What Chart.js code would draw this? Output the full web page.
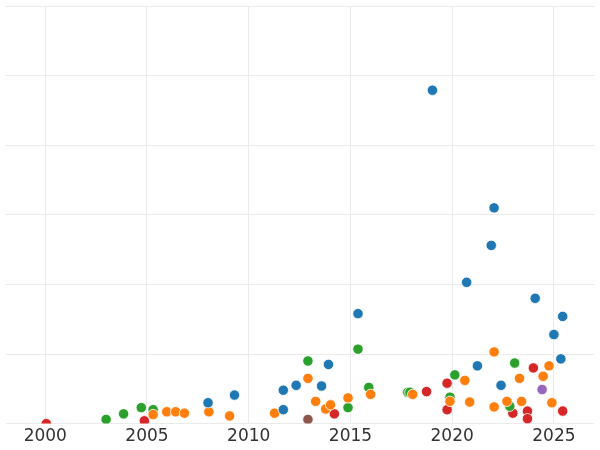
<!DOCTYPE html>
<html>
<head>
<script src="https://cdn.jsdelivr.net/npm/chart.js@4"></script>
<style>body{margin:0;background:#fff}#wrap{width:600px;height:450px}</style>
</head>
<body>
<div id="wrap"><canvas id="c"></canvas></div>
<script>
const blueX = [2008.0, 2009.3, 2011.7, 2011.7, 2012.33, 2013.58, 2013.92, 2015.37, 2019.03, 2020.71, 2021.24, 2021.92, 2022.06, 2022.4, 2024.08, 2025.0, 2025.34, 2025.43];
const blueY = [0.3, 0.41, 0.2, 0.48, 0.55, 0.54, 0.85, 1.58, 4.79, 2.03, 0.83, 2.56, 3.1, 0.55, 1.8, 1.28, 0.93, 1.54];
const orangeX = [2005.3, 2005.97, 2006.41, 2006.84, 2008.04, 2009.06, 2011.27, 2012.91, 2013.29, 2013.78, 2014.02, 2014.88, 2015.99, 2018.06, 2019.89, 2020.62, 2020.86, 2022.06, 2022.06, 2022.69, 2023.31, 2023.41, 2024.47, 2024.76, 2024.9];
const orangeY = [0.13, 0.17, 0.17, 0.15, 0.17, 0.11, 0.15, 0.65, 0.32, 0.21, 0.27, 0.37, 0.42, 0.42, 0.32, 0.62, 0.31, 1.03, 0.24, 0.32, 0.65, 0.32, 0.68, 0.83, 0.3];
const greenX = [2002.99, 2003.85, 2004.72, 2005.3, 2012.91, 2014.88, 2015.37, 2015.9, 2017.82, 2017.92, 2019.89, 2020.13, 2022.83, 2023.07];
const greenY = [0.06, 0.14, 0.23, 0.2, 0.9, 0.23, 1.07, 0.52, 0.45, 0.45, 0.38, 0.7, 0.25, 0.87];
const redX = [2000.05, 2004.87, 2014.21, 2018.74, 2019.75, 2019.75, 2022.98, 2023.7, 2023.7, 2023.99, 2025.43];
const redY = [0, 0.04, 0.14, 0.46, 0.58, 0.2, 0.15, 0.18, 0.07, 0.8, 0.18];
const purpleX = [2024.42];
const purpleY = [0.49];
const brownX = [2012.91];
const brownY = [0.06];
const yearTicks = [2000, 2005, 2010, 2015, 2020, 2025];

function pts(xs, ys) {
  return xs.map((x, i) => ({ x: x, y: ys[i] }));
}
function ds(xs, ys, color) {
  return { data: pts(xs, ys), backgroundColor: color, borderColor: "#fff", borderWidth: 0.8, pointRadius: 5.2, clip: { left: false, right: false, top: false, bottom: 0 } };
}

new Chart(document.getElementById("c"), {
  type: "scatter",
  data: {
    datasets: [
      ds(blueX, blueY, "#1f77b4"),
      ds(orangeX, orangeY, "#ff7f0e"),
      ds(greenX, greenY, "#2ca02c"),
      ds(redX, redY, "#d62728"),
      ds(purpleX, purpleY, "#9467bd"),
      ds(brownX, brownY, "#8c564b"),
    ],
  },
  options: {
    responsive: true,
    maintainAspectRatio: false,
    animation: false,
    layout: { padding: { top: -6, left: -6, right: -6, bottom: 0 } },
    plugins: { legend: { display: false }, tooltip: { enabled: false } },
    scales: {
      x: {
        type: "linear",
        min: 1998.07,
        max: 2026.97,
        afterBuildTicks: (a) => { a.ticks = yearTicks.map((v) => ({ value: v })); },
        grid: { color: "#ebebeb", drawTicks: false },
        border: { display: false },
        ticks: { color: "#333", font: { family: "DejaVu Sans", size: 17 }, padding: 3, maxRotation: 0, callback: (v) => String(v) },
      },
      y: {
        min: 0,
        max: 6,
        ticks: { display: false, stepSize: 1 },
        grid: { color: "#ebebeb", drawTicks: false },
        border: { display: false },
      },
    },
  },
});
</script>
</body>
</html>
